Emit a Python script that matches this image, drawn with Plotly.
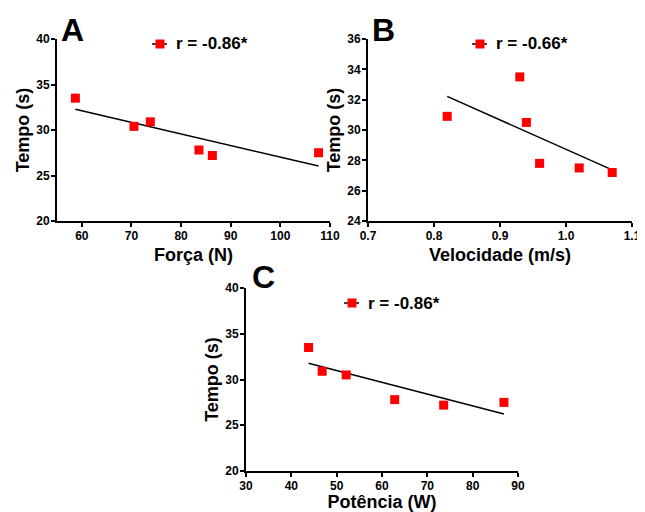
import numpy as np
import plotly.graph_objects as go

# The page places the figure 8 px in from the top-left corner of the window.
OFF = 8
WIN_W, WIN_H = 645, 512
W, H = WIN_W - OFF, WIN_H - OFF

# ---- data ----
forca = [58.7, 70.5, 73.8, 83.6, 86.3, 107.7]
tempo_a = [33.5, 30.4, 30.9, 27.8, 27.2, 27.5]
velocidade = [0.82, 0.93, 0.94, 0.96, 1.02, 1.07]
tempo_b = [30.9, 33.5, 30.5, 27.8, 27.5, 27.2]
potencia = [43.8, 46.8, 52.1, 62.8, 73.6, 86.9]
tempo_c = [33.5, 30.9, 30.5, 27.8, 27.2, 27.5]
r_labels = ["r = -0.86*", "r = -0.66*", "r = -0.86*"]
panel_letters = ["A", "B", "C"]
x_titles = ["Força (N)", "Velocidade (m/s)", "Potência (W)"]
y_title = "Tempo (s)"


def px(x):
    return (x - OFF) / W


def py(y):
    return 1 - (y - OFF) / H


FONT = "Liberation Sans, Arial, sans-serif"
RED = "#ff0000"

fig = go.Figure()

sets = [(forca, tempo_a), (velocidade, tempo_b), (potencia, tempo_c)]
for i, (xs, ys) in enumerate(sets):
    sfx = "" if i == 0 else str(i + 1)
    m, b = np.polyfit(xs, ys, 1)
    xl = [min(xs), max(xs)]
    yl = [m * v + b for v in xl]
    fig.add_trace(go.Scatter(x=xl, y=yl, mode="lines",
                             line=dict(color="black", width=1.5),
                             xaxis="x" + sfx, yaxis="y" + sfx, showlegend=False,
                             hoverinfo="skip"))
    fig.add_trace(go.Scatter(x=xs, y=ys, mode="markers",
                             marker=dict(symbol="square", size=9, color=RED),
                             xaxis="x" + sfx, yaxis="y" + sfx, showlegend=False))

# axis layout (window pixel boxes)
boxes = [
    (57, 330, 39, 221),
    (368, 632, 39, 221),
    (246, 518, 288, 471),
]
xranges = [[55, 110], [0.7, 1.1], [30, 90]]
xdticks = [10, 0.1, 10]
xformats = ["d", ".1f", "d"]
yranges = [[20, 40], [24, 36], [20, 40]]
ydticks = [5, 2, 5]
xstand = [6, 6, 8]

axis_common = dict(showline=True, linecolor="black", linewidth=2,
                   ticks="outside", ticklen=4, tickwidth=2, tickcolor="black",
                   showgrid=False, zeroline=False, automargin=False,
                   ticklabelstandoff=-1,
                   tickfont=dict(family=FONT, size=12, color="black", weight="bold"))

layout = dict(width=W, height=H, margin=dict(l=0, r=0, t=0, b=0),
              paper_bgcolor="white", plot_bgcolor="white", showlegend=False)

for i, (x0, x1, y0, y1) in enumerate(boxes):
    sfx = "" if i == 0 else str(i + 1)
    layout["xaxis" + sfx] = dict(axis_common, domain=[px(x0), px(x1)],
                                 range=xranges[i], dtick=xdticks[i], tick0=0,
                                 tickformat=xformats[i],
                                 anchor="y" + sfx,
                                 title=dict(text=x_titles[i], standoff=xstand[i],
                                            font=dict(family=FONT, size=18, color="black", weight="bold")))
    layout["yaxis" + sfx] = dict(axis_common, domain=[py(y1), py(y0)],
                                 range=yranges[i], dtick=ydticks[i], tick0=0,
                                 anchor="x" + sfx,
                                 title=dict(text=y_title, standoff=2,
                                            font=dict(family=FONT, size=18, color="black", weight="bold")))

fig.update_layout(**layout)

# panel letters and mini legends
letter_pos = [(72, 30), (383, 30), (263, 277)]
leg_pos = [(160, 44), (480, 44), (352, 303)]
annotations = []
shapes = []
for i in range(3):
    lx, ly = letter_pos[i]
    annotations.append(dict(x=px(lx), y=py(ly), xref="paper", yref="paper",
                            text=panel_letters[i], showarrow=False,
                            xanchor="center", yanchor="middle",
                            font=dict(family=FONT, size=32, color="black", weight="bold")))
    mx, my = leg_pos[i]
    shapes.append(dict(type="line", xref="paper", yref="paper",
                       x0=px(mx - 8), x1=px(mx + 7), y0=py(my), y1=py(my),
                       line=dict(color="black", width=1.5)))
    shapes.append(dict(type="rect", xref="paper", yref="paper",
                       x0=px(mx - 4.5), x1=px(mx + 4.5), y0=py(my - 4.5), y1=py(my + 4.5),
                       fillcolor=RED, line=dict(width=0)))
    annotations.append(dict(x=px(mx + 14), y=py(my), xref="paper", yref="paper",
                            text=r_labels[i], showarrow=False,
                            xanchor="left", yanchor="middle",
                            font=dict(family=FONT, size=17, color="black", weight="bold")))

fig.update_layout(annotations=annotations, shapes=shapes)

fig.write_html("out.html")
